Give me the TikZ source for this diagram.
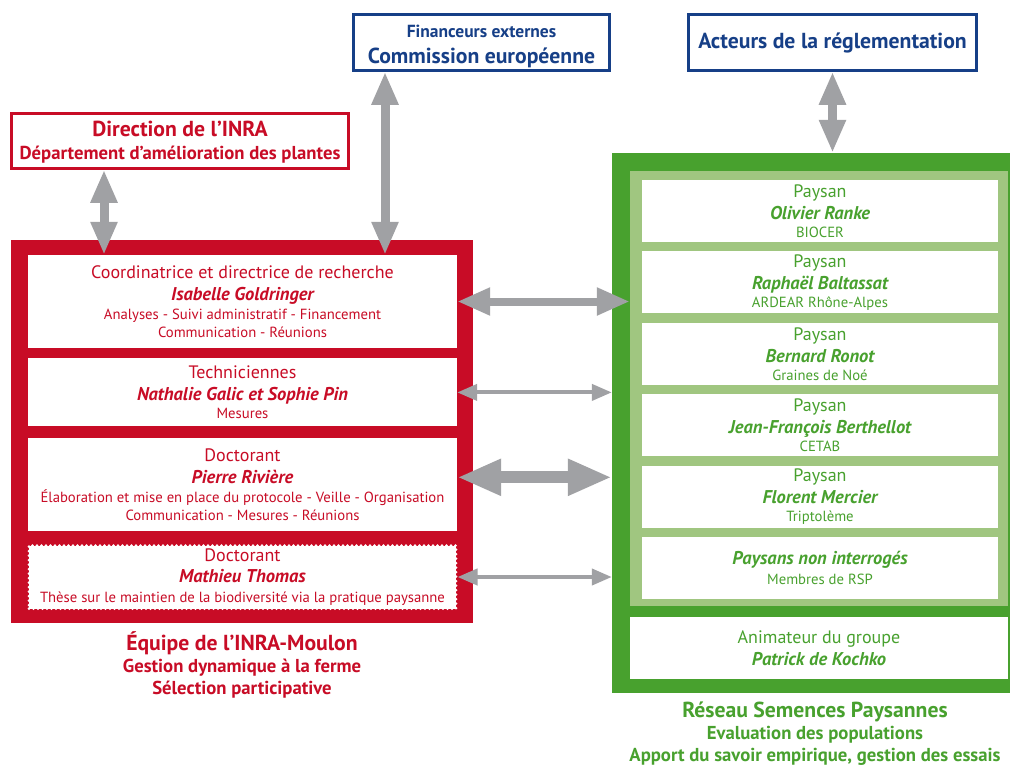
\documentclass[tikz,border=0pt]{standalone}
\usepackage{fontspec}
\setmainfont{PT Sans}
\usetikzlibrary{positioning,arrows.meta}
\definecolor{inrared}{RGB}{200,12,38}
\definecolor{rspgreen}{RGB}{72,161,46}
\definecolor{rsplight}{RGB}{160,198,128}
\definecolor{extblue}{RGB}{22,63,135}
\definecolor{arrowgray}{RGB}{160,161,164}
\newcommand\rolefont{\fontsize{18}{18}\selectfont}
\newcommand\namefont{\fontsize{18.5}{18}\selectfont\bfseries\itshape}
\newcommand\bigtitle{\fontsize{21.7}{22}\selectfont}

\begin{document}
\begin{tikzpicture}[x=1pt,y=-1pt,
every node/.style={inner sep=0pt, align=center},
topbox/.style={draw=#1, line width=2.5pt, fill=white, text=#1, font=\bfseries\fontsize{18.7}{23}\selectfont},
redbox/.style={fill=white, text=inrared, minimum width=429pt, font=\fontsize{14.7}{18}\selectfont},
greenbox/.style={fill=white, text=rspgreen, minimum width=356pt, minimum height=62pt, font=\fontsize{14.7}{18}\selectfont},
teamtitle/.style={anchor=north, font=\bfseries\fontsize{18.7}{22}\selectfont},
vbig/.style={draw=arrowgray, line width=9pt, {Triangle[width=25pt,length=33pt]}-{Triangle[width=25pt,length=33pt]}},
hmid/.style={draw=arrowgray, line width=8pt, {Triangle[width=26pt,length=33pt]}-{Triangle[width=26pt,length=33pt]}},
hthin/.style={draw=arrowgray, line width=4pt, {Triangle[width=16pt,length=20pt]}-{Triangle[width=16pt,length=20pt]}},
hthick/.style={draw=arrowgray, line width=12pt, {Triangle[width=34pt,length=44pt]}-{Triangle[width=34pt,length=44pt]}}
]
\useasboundingbox[fill=white] (0,0) rectangle (1010,764);

\node[topbox=extblue, minimum width=256pt, minimum height=56pt] (funders) at (481.5,42.5)
  {\rule{0pt}{20pt}\fontsize{17.5}{18}\selectfont Financeurs externes\\[3pt] \bigtitle Commission européenne};
\node[topbox=extblue, minimum width=288pt, minimum height=56pt] (rules) at (832.5,42.5)
  {\bigtitle Acteurs de la réglementation};
\node[topbox=inrared, minimum width=337pt, minimum height=55pt] (direction) at (180,141)
  {\rule{0pt}{18pt}\bigtitle Direction de l’INRA\\ Département d’amélioration des plantes};

\node[fill=inrared, minimum width=462pt, minimum height=383pt] (inra) at (242,431.5) {};
\node[redbox, minimum height=93pt] (coord) at (242.5,301.5)
  {\rolefont Coordinatrice et directrice de recherche\\[4pt] \namefont Isabelle Goldringer\\[1pt]
   Analyses - Suivi administratif - Financement\\ Communication - Réunions};
\node[redbox, minimum height=68pt, below=10pt of coord] (tech)
  {\rolefont Techniciennes\\[4pt] \namefont Nathalie Galic et Sophie Pin\\ Mesures};
\node[redbox, minimum height=93pt, below=11pt of tech] (phd1)
  {\rolefont Doctorant\\[4pt] \namefont Pierre Rivière\\[1pt]
   Élaboration et mise en place du protocole - Veille - Organisation\\ Communication - Mesures - Réunions};
\node[redbox, minimum height=63pt, minimum width=427pt, below=13pt of phd1, draw=white, line width=3pt, line cap=round, dash pattern=on 0pt off 4.5pt] (phd2)
  {\rolefont Doctorant\\[3pt] \namefont Mathieu Thomas\\[2pt]
   Thèse sur le maintien de la biodiversité via la pratique paysanne};
\node[teamtitle, text=inrared] (inratitle) at (242,631)
  {\bigtitle Équipe de l’INRA-Moulon\\ Gestion dynamique à la ferme\\ Sélection participative};

\node[fill=rspgreen, minimum width=398pt, minimum height=540pt] (rsp) at (811,423) {};
\node[fill=rsplight, minimum width=378pt, minimum height=435pt] (farmers) at (819,388.5) {};
\node[greenbox] (ranke) at (820,211)
  {\rolefont Paysan\\[4pt] \namefont Olivier Ranke\\ BIOCER};
\node[greenbox, below=9pt of ranke] (baltassat)
  {\rolefont Paysan\\[4pt] \namefont Raphaël Baltassat\\ ARDEAR Rhône-Alpes};
\node[greenbox, below=9pt of baltassat] (ronot)
  {\rolefont Paysan\\[4pt] \namefont Bernard Ronot\\ Graines de Noé};
\node[greenbox, below=9pt of ronot] (berthellot)
  {\rolefont Paysan\\[4pt] \namefont Jean-François Berthellot\\ CETAB};
\node[greenbox, below=9pt of berthellot] (mercier)
  {\rolefont Paysan\\[4pt] \namefont Florent Mercier\\ Triptolème};
\node[greenbox, below=9pt of mercier] (others)
  {\namefont Paysans non interrogés\\[2pt] Membres de RSP};
\node[greenbox, minimum width=378pt] (animator) at (819,648)
  {\rolefont Animateur du groupe\\[4pt] \namefont Patrick de Kochko};
\node[teamtitle, text=rspgreen] (rsptitle) at (815,702)
  {\bigtitle Réseau Semences Paysannes\\ Evaluation des populations\\ Apport du savoir empirique, gestion des essais};

\coordinate (dirx) at (104,0);
\coordinate (funx) at (385,0);
\draw[vbig] (direction.south -| dirx) -- (coord.north -| dirx);
\draw[vbig] (funders.south -| funx) -- (coord.north -| funx);
\draw[vbig] (rules.south) -- (rules.south |- rsp.north);
\draw[hmid] (coord.east) -- (coord.east -| farmers.west);
\draw[hthin] (tech.east) -- (tech.east -| rsp.west);
\draw[hthick] ([yshift=7pt]phd1.east) -- ([yshift=7pt]phd1.east -| rsp.west);
\draw[hthin] (phd2.east) -- (phd2.east -| rsp.west);
\end{tikzpicture}
\end{document}
